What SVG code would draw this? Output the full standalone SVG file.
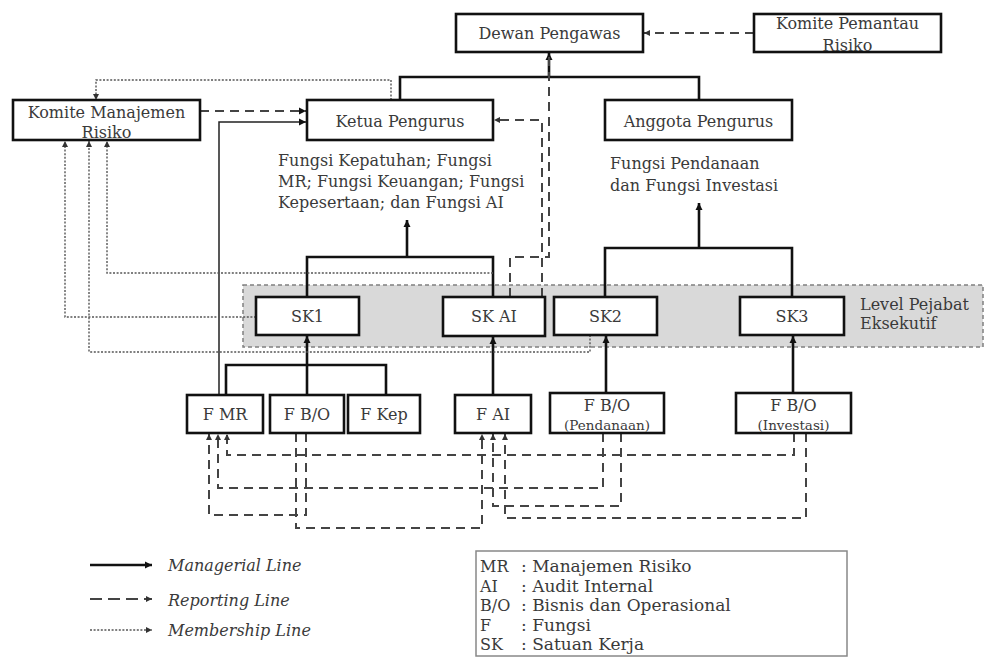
<svg xmlns="http://www.w3.org/2000/svg" width="986" height="659" viewBox="0 0 986 659">
<defs>
<marker id="ah" markerUnits="userSpaceOnUse" markerWidth="8" markerHeight="8" refX="7" refY="4" orient="auto">
<path d="M0,0.5 L7,4 L0,7.5 z" fill="#111"/>
</marker>
<marker id="ahs" markerUnits="userSpaceOnUse" markerWidth="7" markerHeight="7" refX="6" refY="3.5" orient="auto">
<path d="M0,0.5 L6,3.5 L0,6.5 z" fill="#333"/>
</marker>
</defs>
<style>
text{font-family:"DejaVu Serif","Liberation Serif",serif;fill:#3a3a3a;}
.t16{font-size:16px;}
.t15{font-size:15px;}
.t13{font-size:13.5px;}
.c{text-anchor:middle;}
.box{fill:#fff;stroke:#111;stroke-width:2.6;}
.man{fill:none;stroke:#111;stroke-width:2.6;}
.thin{fill:none;stroke:#222;stroke-width:1.5;}
.rep{fill:none;stroke:#444;stroke-width:2;stroke-dasharray:9 6;}
.mem{fill:none;stroke:#555;stroke-width:1.4;stroke-dasharray:2 1.6;}
.it{font-style:italic;font-size:16px;}
.lg{font-size:17px;}
.ab{font-size:16px;}
</style>
<rect id="band" x="243" y="285" width="740" height="62" fill="#d9d9d9" stroke="#808080" stroke-width="1.5" stroke-dasharray="4 3"/>
<text class="t16" x="860" y="310">Level Pejabat</text>
<text class="t16" x="860" y="329">Eksekutif</text>

<g id="connectors">
<path class="man" d="M400,100 V77 H699 V100"/>
<path class="man" d="M549,77 V53" marker-end="url(#ah)"/>
<path class="man" d="M307,297 V257 H493 V297"/>
<path class="man" d="M407,257 V220" marker-end="url(#ah)"/>
<path class="man" d="M605,297 V248 H792 V297"/>
<path class="man" d="M699,248 V203" marker-end="url(#ah)"/>
<path class="man" d="M307,395 V336" marker-end="url(#ah)"/>
<path class="man" d="M226,395 V365 H386 V395"/>
<path class="man" d="M493,395 V337" marker-end="url(#ah)"/>
<path class="man" d="M606,393 V336" marker-end="url(#ah)"/>
<path class="man" d="M793,393 V336" marker-end="url(#ah)"/>
<path class="thin" d="M219,395 V122 H306" marker-end="url(#ah)"/>

<path class="rep" d="M754,33 H644" marker-end="url(#ahs)"/>
<path class="rep" d="M200,111 H306" marker-end="url(#ah)"/>
<path class="rep" d="M542,297 V120 H494" marker-end="url(#ahs)"/>
<path class="rep" d="M510,297 V257 H549 V53"/>
<path class="rep" d="M794,433 V455 H227 V434" marker-end="url(#ahs)"/>
<path class="rep" d="M603,433 V488 H218 V434" marker-end="url(#ahs)"/>
<path class="rep" d="M306,433 V515 H209 V434" marker-end="url(#ahs)"/>
<path class="rep" d="M296,433 V528 H482 V434" marker-end="url(#ahs)"/>
<path class="rep" d="M621,433 V506 H493 V434" marker-end="url(#ahs)"/>
<path class="rep" d="M806,433 V518 H505 V434" marker-end="url(#ahs)"/>

<path class="mem" d="M391,100 V80 H96 V100" marker-end="url(#ahs)"/>
<path class="mem" d="M493,273 H107 V141" marker-end="url(#ahs)"/>
<path class="mem" d="M256,317 H65 V141" marker-end="url(#ahs)"/>
<path class="mem" d="M590,335 V352 H89 V141" marker-end="url(#ahs)"/>
</g>

<g id="dewan-pengawas"><rect class="box" x="456" y="14" width="187" height="38"/><text class="t16 c" x="549.5" y="38.5">Dewan Pengawas</text></g>
<g id="komite-pemantau"><rect class="box" x="754" y="14" width="187" height="38"/><text class="t16 c" x="847.5" y="28.5">Komite Pemantau</text><text class="t16 c" x="847.5" y="50.5">Risiko</text></g>
<g id="komite-mr"><rect class="box" x="13" y="100" width="187" height="40"/><text class="t16 c" x="106.5" y="117.5">Komite Manajemen</text><text class="t16 c" x="106.5" y="137.5">Risiko</text></g>
<g id="ketua"><rect class="box" x="307" y="100" width="186" height="40"/><text class="t16 c" x="400" y="126.5">Ketua Pengurus</text></g>
<g id="anggota"><rect class="box" x="605" y="100" width="187" height="40"/><text class="t16 c" x="698.5" y="126.5">Anggota Pengurus</text></g>

<g id="fungsi-ketua"><text class="t16" x="278" y="165.5">Fungsi Kepatuhan; Fungsi</text><text class="t16" x="278" y="186.5">MR; Fungsi Keuangan; Fungsi</text><text class="t16" x="278" y="207.5">Kepesertaan; dan Fungsi AI</text></g>
<g id="fungsi-anggota"><text class="t16" x="610" y="168.5">Fungsi Pendanaan</text><text class="t16" x="610" y="190.5">dan Fungsi Investasi</text></g>

<g id="sk1"><rect class="box" x="256" y="297" width="103" height="38"/><text class="t16 c" x="307.5" y="321.5">SK1</text></g>
<g id="skai"><rect class="box" x="443" y="297" width="102" height="39"/><text class="t16 c" x="494" y="321.5">SK AI</text></g>
<g id="sk2"><rect class="box" x="554" y="297" width="103" height="38"/><text class="t16 c" x="605.5" y="321.5">SK2</text></g>
<g id="sk3"><rect class="box" x="740" y="297" width="104" height="38"/><text class="t16 c" x="792" y="321.5">SK3</text></g>

<g id="fmr"><rect class="box" x="187" y="395" width="76" height="38"/><text class="t16 c" x="225" y="419.5">F MR</text></g>
<g id="fbo"><rect class="box" x="270" y="395" width="74" height="38"/><text class="t16 c" x="307" y="419.5">F B/O</text></g>
<g id="fkep"><rect class="box" x="348" y="395" width="72" height="38"/><text class="t16 c" x="384" y="419.5">F Kep</text></g>
<g id="fai"><rect class="box" x="455" y="395" width="76" height="38"/><text class="t16 c" x="493" y="419.5">F AI</text></g>
<g id="fbo-pendanaan"><rect class="box" x="550" y="393" width="114" height="40"/><text class="t16 c" x="607" y="410.5">F B/O</text><text class="t13 c" x="607" y="430">(Pendanaan)</text></g>
<g id="fbo-investasi"><rect class="box" x="736" y="393" width="115" height="40"/><text class="t16 c" x="793.5" y="410.5">F B/O</text><text class="t13 c" x="793.5" y="430">(Investasi)</text></g>

<g id="legend">
<path class="man" d="M90,565 H152" marker-end="url(#ah)"/>
<path fill="none" stroke="#444" stroke-width="2" stroke-dasharray="12 6" d="M90,599 H152" marker-end="url(#ahs)"/>
<path class="mem" d="M90,630 H152" marker-end="url(#ahs)"/>
<text class="it" x="168" y="570.5">Managerial Line</text>
<text class="it" x="168" y="605.5">Reporting Line</text>
<text class="it" x="168" y="636">Membership Line</text>
</g>
<g id="legend-box">
<rect x="476" y="551" width="371" height="105" fill="#fff" stroke="#888" stroke-width="1.5"/>
<g class="ab">
<text x="480" y="572">MR</text>
<text x="480" y="591.5">AI</text>
<text x="480" y="611">B/O</text>
<text x="480" y="630.5">F</text>
<text x="480" y="650">SK</text>
</g>
<g class="lg">
<text x="521" y="572">: Manajemen Risiko</text>
<text x="521" y="591.5">: Audit Internal</text>
<text x="521" y="611">: Bisnis dan Operasional</text>
<text x="521" y="630.5">: Fungsi</text>
<text x="521" y="650">: Satuan Kerja</text>
</g>
</g>
</svg>
